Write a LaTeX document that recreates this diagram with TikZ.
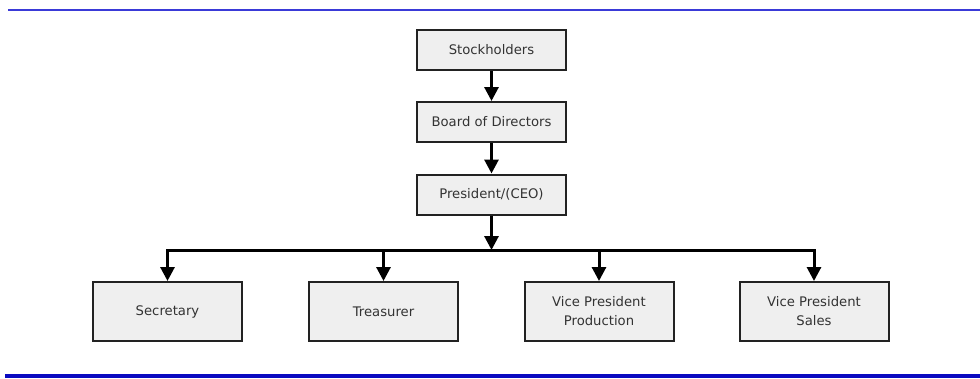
\documentclass[tikz,border=0pt]{standalone}
\usepackage{fontspec}
\setmainfont{DejaVu Sans}
\usetikzlibrary{arrows.meta}
\definecolor{boxfill}{HTML}{EFEFEF}
\definecolor{boxline}{HTML}{222222}
\definecolor{txt}{HTML}{333333}
\definecolor{rulea}{HTML}{3A3AD8}
\definecolor{ruleb}{HTML}{0A0AC0}
\tikzset{
  orgbox/.style={draw=boxline, line width=2pt, fill=boxfill, minimum width=149pt,
    inner sep=0pt, text=txt, align=center, font=\fontsize{13.2}{19}\selectfont},
  topbox/.style={orgbox, minimum height=40pt},
  lowbox/.style={orgbox, minimum height=59pt},
  arr/.style={line width=3pt, -{Triangle[length=14pt,width=14pt]}},
  bar/.style={line width=3pt, line cap=rect}
}
\begin{document}
\begin{tikzpicture}[x=1pt,y=-1pt]
\useasboundingbox (0,0) rectangle (980,378);
\fill[white] (0,0) rectangle (980,378);
% rules
\draw[rulea, line width=1.6pt] (8,10) -- (980,10);
\fill[ruleb] (5,374) rectangle (980,378);
% top chain
\node[topbox] (stock) at (491.5,50) {Stockholders};
\node[topbox] (board) at (491.5,122) {Board of Directors};
\node[topbox] (pres)  at (491.5,194.5) {President/(CEO)};
% bottom row
\node[lowbox] (sec)  at (167.5,311.5) {Secretary};
\node[lowbox] (trea) at (383.5,311.5) {Treasurer};
\node[lowbox] (vpp)  at (599,311.5) {Vice President\\Production};
\node[lowbox] (vps)  at (814,311.5) {Vice President\\Sales};
% junctions
\coordinate (hub) at (491.5,250);
\coordinate (j1) at (167.5,250);
\coordinate (j2) at (383.5,250);
\coordinate (j3) at (599,250);
\coordinate (j4) at (814,250);
% connectors
\draw[arr] (stock) -- (board);
\draw[arr] (board) -- (pres);
\draw[arr] (pres) -- (hub);
\draw[bar] (j1) -- (j4);
\draw[arr] (j1) -- (sec);
\draw[arr] (j2) -- (trea);
\draw[arr] (j3) -- (vpp);
\draw[arr] (j4) -- (vps);
\end{tikzpicture}
\end{document}
